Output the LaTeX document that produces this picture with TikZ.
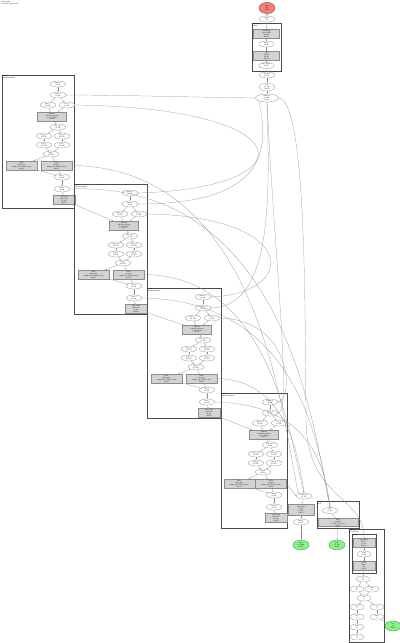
\documentclass[tikz,border=0pt]{standalone}
\usepackage{fontspec}
\setmainfont{Liberation Serif}
\usepackage{tikz}
\usetikzlibrary{arrows.meta,shapes.geometric}
\definecolor{opgray}{HTML}{D3D3D3}
\definecolor{inred}{HTML}{F08080}
\definecolor{outgreen}{HTML}{90EE90}
\definecolor{edgegray}{HTML}{8C8C8C}

\begin{document}
\begin{tikzpicture}[
    x=2pt, y=-2pt,
    >={Stealth[length=2.4pt,width=1.8pt]},
    every node/.style={font=\fontsize{3.4}{3.9}\selectfont, align=center, inner sep=0.6pt},
    var/.style={ellipse, draw=black!55, line width=0.4pt, fill=white, minimum width=31pt, minimum height=12pt},
    smallvar/.style={var, minimum width=28pt, minimum height=12pt},
    op/.style={rectangle, draw=black!45, line width=0.4pt, fill=opgray, minimum width=58pt, minimum height=18pt},
    cluster/.style={draw=black!70, line width=1.2pt},
    clabel/.style={anchor=north west, align=left, inner sep=1pt},
    flow/.style={->, draw=edgegray, line width=0.45pt},
    innode/.style={var, fill=inred, draw=red!60!black, minimum width=32pt, minimum height=23pt},
    outnode/.style={var, fill=outgreen, draw=green!50!black, minimum width=32pt, minimum height=20pt}
]
    \useasboundingbox (0,0) rectangle (400,643);

    % === TITLE ===
    \node[clabel] (title) at (1,1) {model graph\\blocks=4, dtype=float32};

    % === INPUT AND EMBEDDING ===
    \node[innode] (inp) at (267,8) {input\\(8,)\\int64};
    \node[var] (tok) at (267,19) {tokens\\(8,)};

    \draw[cluster] (252,23) rectangle (281,71);
    \node[clabel] (embl) at (252,23) {embedding\\Embed};
    \node[op, minimum width=52pt] (emb) at (266.5,33.5) {embedding\\vocab=1000\\dim=64\\float32};
    \node[var] (embv) at (266.5,44) {embed\\(8, 64)};
    \node[op, minimum width=52pt] (pos) at (266.5,56) {add\\position\\(8, 64)\\float32};
    \node[var] (posv) at (266.5,65.5) {pos\_embed\\(8, 64)};

    \node[var] (drop) at (267,75) {dropout\\(8, 64)};
    \node[var, minimum height=15pt] (scl) at (267,87) {scale\\(8, 64)\\float32};
    \node[var, minimum width=46pt, minimum height=16pt] (hub) at (267,98) {hidden\_0\\(8, 64)\\float32};

    \draw[flow] (inp) -- (tok);
    \draw[flow] (tok) -- (emb);
    \draw[flow] (emb) -- (embv);
    \draw[flow] (embv) -- (pos);
    \draw[flow] (pos) -- (posv);
    \draw[flow] (posv) -- (drop);
    \draw[flow] (drop) -- (scl);
    \draw[flow] (scl) -- (hub);

    % === BLOCKS ===
    \foreach \k/\ox/\oy/\w/\h/\d in {1/2/75/72/133/0, 2/74/184/73/130/0, 3/147/288/74/130/0, 4/221/393/66/135/-7} {
        \begin{scope}[shift={(\ox,\oy)}]
            \draw[cluster] (0,0) rectangle (\w,\h);
            \node[clabel] (lab\k) at (0,0) {block\_\k\\TransformerBlock};
            \node[var] (a\k) at ({56+\d},9) {hidden\_\k\\(8, 64)};
            \node[var] (b\k) at ({56+\d},20) {norm\_\k\\(8, 64)};
            \node[var] (ca\k) at ({46+\d},30) {query\_\k\\(8, 64)};
            \node[var] (cb\k) at ({65+\d},30) {key\_\k\\(8, 64)};
            \node[op] (d\k) at ({50+\d},41.5) {attention\\scaled\_dot\_product\\q, k, v: (8, 64)\\float32};
            \node[var] (e\k) at ({56+\d},52) {attn\_out\_\k\\(8, 64)};
            \node[var] (fa\k) at ({42+\d},61) {proj\_a\_\k\\(8, 256)};
            \node[var] (fb\k) at ({60+\d},61) {proj\_b\_\k\\(8, 256)};
            \node[var] (ga\k) at ({42+\d},70) {gelu\_\k\\(8, 256)};
            \node[var] (gb\k) at ({60+\d},70) {gate\_\k\\(8, 256)};
            \node[var] (h\k) at ({49+\d},79) {mlp\_\k\\(8, 256)};
            \node[op, minimum width=62pt] (ia\k) at ({19.5+0.2*\d},90.5) {linear\\down\_proj\\weight: (64, 256) bias: (64)\\float32};
            \node[op, minimum width=62pt] (ib\k) at ({54.5+0.65*\d},90.5) {linear\\out\_proj\\weight: (64, 256) bias: (64)\\float32};
            \node[var] (j\k) at ({60+\d},102) {sum\_\k\\(8, 64)};
            \node[var] (m\k) at ({60+\d},114) {resid\_\k\\(8, 64)};
            \node[op, minimum width=44pt] (l\k) at ({62+\d},125) {layer\_norm\\eps=1e-05\\(8, 64)\\float32};

            \draw[flow] (a\k) -- (b\k);
            \draw[flow] (b\k) -- (ca\k);
            \draw[flow] (b\k) -- (cb\k);
            \draw[flow] (ca\k) -- (d\k);
            \draw[flow] (cb\k) -- (d\k);
            \draw[flow] (d\k) -- (e\k);
            \draw[flow] (e\k) -- (fa\k);
            \draw[flow] (e\k) -- (fb\k);
            \draw[flow] (fa\k) -- (ga\k);
            \draw[flow] (fb\k) -- (gb\k);
            \draw[flow] (ga\k) -- (h\k);
            \draw[flow] (gb\k) -- (h\k);
            \draw[flow] (h\k) -- (ia\k);
            \draw[flow] (h\k) -- (ib\k);
            \draw[flow] (ia\k) -- (j\k);
            \draw[flow] (ib\k) -- (j\k);
            \draw[flow] (j\k) -- (m\k);
            \draw[flow] (m\k) -- (l\k);
        \end{scope}
    }

    % block to block
    \foreach \k/\n in {1/2, 2/3, 3/4} {
        \draw[flow] (l\k) -- (d\n);
    }
    \draw[flow] (cb1.east) .. controls (305,108) and (310,188) .. (a2.east);
    \draw[flow] (cb2.east) .. controls (298,216) and (300,293) .. (a3.east);
    \draw[flow] (cb3.east) .. controls (292,320) and (294,398) .. (a4.east);

    % shared hidden state to the blocks
    \draw[flow] (hub.west) .. controls (180,97) and (120,95) .. (b1.east);
    \draw[flow] (hub.south west) .. controls (270,150) and (266,204) .. (b2.east);
    \draw[flow] (hub.south) .. controls (270,200) and (272,306) .. (b3.east);
    \draw[flow] (hub.south) .. controls (274,250) and (292,410) .. (b4.east);

    % === OUTPUT HEAD ===
    \node[var] (fin) at (304,496) {hidden\_4\\(8, 64)};
    \node[op, minimum width=52pt, minimum height=23pt] (fnorm) at (301,509.5) {layer\_norm\\final\\(8, 64)\\float32};
    \node[var] (fnv) at (301,522) {norm\_f\\(8, 64)};
    \node[outnode] (logits) at (301,545) {logits\\(8, 1000)\\float32};

    \draw[flow] (ib1.east) .. controls (262,168) and (282,420) .. (fin.north west);
    \draw[flow] (ib2.east) .. controls (272,276) and (290,440) .. (fin.north);
    \draw[flow] (ib3.east) .. controls (284,380) and (298,450) .. (fin.north);
    \draw[flow] (ib4.east) -- (fin.west);
    \draw[flow] (fin) -- (fnorm);
    \draw[flow] (fnorm) -- (fnv);
    \draw[flow] (fnv) -- (logits);

    % === CLASSIFIER ===
    \draw[cluster] (317,501) rectangle (359,528);
    \node[clabel] (clsl) at (317,501) {classifier\\Head};
    \node[var] (pool) at (330,510.5) {pool\\(1, 64)};
    \node[op, minimum width=80pt, minimum height=16pt] (cls) at (338,522.5) {linear\\classifier\\(1, 64) $\rightarrow$ (1, 10)\\float32};
    \node[outnode] (probs) at (337,545) {probs\\(1, 10)\\float32};

    \draw[flow] (m1.east) .. controls (290,180) and (315,440) .. (pool.north);
    \draw[flow] (m2.east) .. controls (300,300) and (320,450) .. (pool.north);
    \draw[flow] (m3.east) .. controls (305,404) and (325,460) .. (pool.north);
    \draw[flow] (pool) -- (cls);
    \draw[flow] (cls) -- (probs);

    % === LOSS ===
    \draw[cluster] (349,529) rectangle (384,642);
    \node[clabel] (lossl) at (349,529) {loss\\CrossEntropy};
    \draw[cluster, line width=0.9pt] (352,534) rectangle (376,573);
    \node[clabel] (smxl) at (352,533.5) {softmax};
    \node[op, minimum width=44pt] (s1) at (364,543) {log\_softmax\\dim=-1\\(1, 10)\\float32};
    \node[smallvar] (s2) at (364,554) {logp\\(1, 10)};
    \node[op, minimum width=44pt] (s3) at (364,566) {gather\\target\\(1,)\\float32};
    \node[smallvar] (s4) at (363,579) {nll\\(1,)};
    \node[smallvar] (s5a) at (357,589) {neg\\(1,)};
    \node[smallvar] (s5b) at (372,589) {mask\\(1,)};
    \node[smallvar] (s6) at (364,598) {sum\\()};
    \node[smallvar] (s7a) at (357,607) {count\\()};
    \node[smallvar] (s7b) at (377,607) {total\\()};
    \node[smallvar] (s8a) at (357,617) {div\\()};
    \node[smallvar] (s8b) at (377,617) {mean\\()};
    \node[smallvar] (s9) at (357,627) {grad\\()};
    \node[smallvar] (s10) at (357,637) {step\\()};
    \node[outnode] (loss) at (393,626) {loss\\()\\float32};

    \draw[flow] (hub.east) .. controls (306,100) and (305,300) .. (306,420) .. controls (307,500) and (364,495) .. (s1.north);
    \draw[flow] (s1) -- (s2);
    \draw[flow] (s2) -- (s3);
    \draw[flow] (s3) -- (s4);
    \draw[flow] (s4) -- (s5a);
    \draw[flow] (s4) -- (s5b);
    \draw[flow] (s5a) -- (s6);
    \draw[flow] (s5b) -- (s6);
    \draw[flow] (s6) -- (s7a);
    \draw[flow] (s6) -- (s7b);
    \draw[flow] (s7a) -- (s8a);
    \draw[flow] (s7b) -- (s8b);
    \draw[flow] (s8a) -- (s9);
    \draw[flow] (s9) -- (s10);
    \draw[flow] (s8b) -- (loss);
\end{tikzpicture}
\end{document}
